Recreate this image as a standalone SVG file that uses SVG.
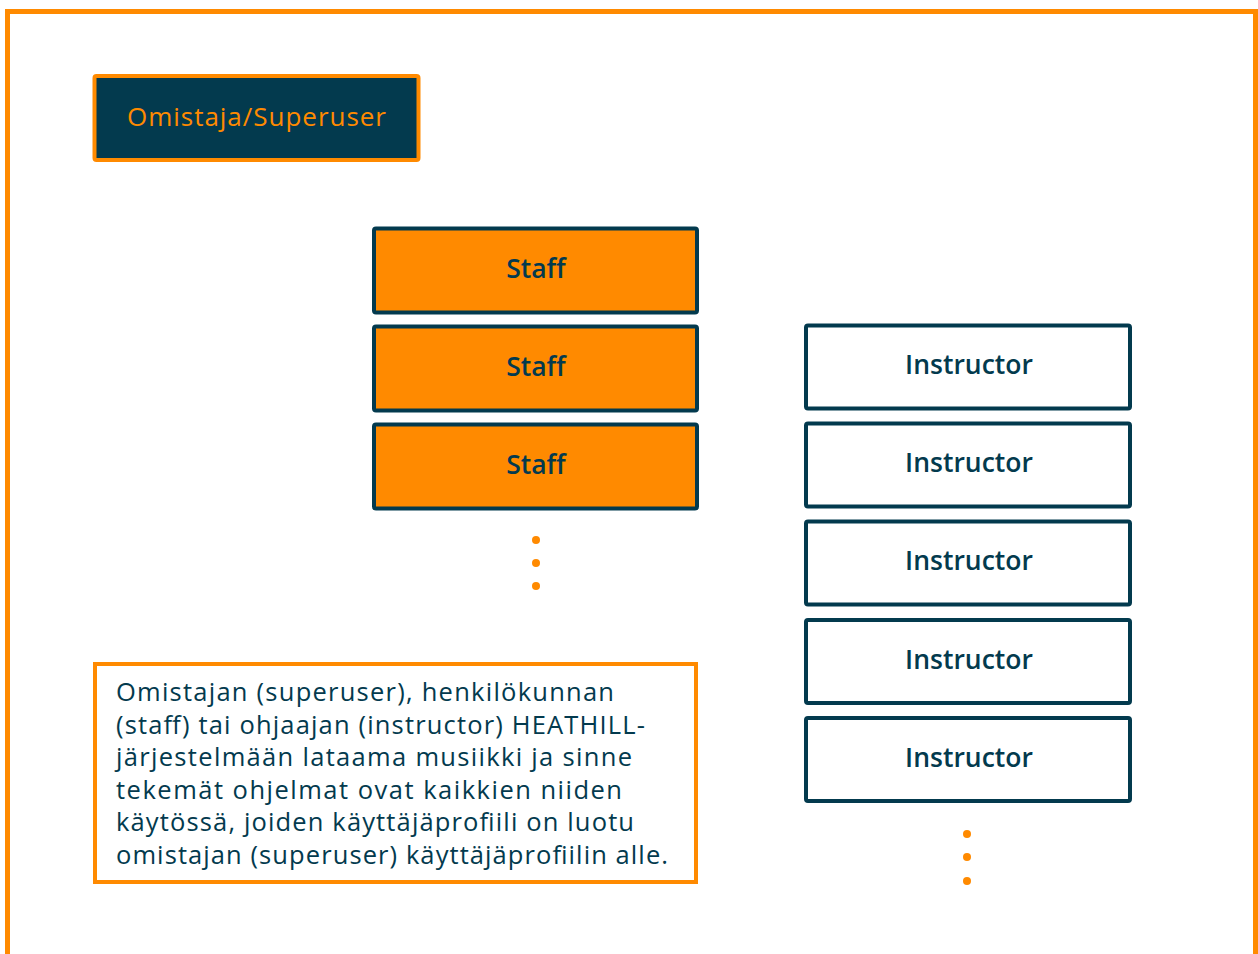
<svg xmlns="http://www.w3.org/2000/svg" width="1258" height="954" viewBox="0 0 1258 954">
<style>
.frame{fill:none;stroke:#FF8A00;stroke-width:5}
.owner{fill:#033A4E;stroke:#FF8A00;stroke-width:4}
.staff{fill:#FF8A00;stroke:#033A4E;stroke-width:4}
.instr{fill:#FFFFFF;stroke:#033A4E;stroke-width:4}
.note{fill:#FFFFFF;stroke:#FF8A00;stroke-width:4}
.lbl{font-family:"Open Sans","Noto Sans",sans-serif;font-size:26.5px;font-weight:600;text-anchor:middle;fill:#033A4E}
.olbl{fill:#FF8A00;font-weight:500;font-size:26px}
.ntxt{font-family:"Open Sans","Noto Sans",sans-serif;font-size:25.5px;fill:#033A4E}
.dot{fill:#FF8A00}
</style>
<rect width="1258" height="954" fill="#FFFFFF"/>
<rect class="frame" x="7.5" y="11.5" width="1248" height="960"/>
<g id="owner">
<rect class="owner" x="94.5" y="76" width="324" height="84" rx="2"/>
<text class="lbl olbl" x="256.5" y="126" textLength="259" lengthAdjust="spacing">Omistaja/Superuser</text>
</g>
<g id="staff1">
<rect class="staff" x="374" y="228.5" width="323" height="84" rx="2"/>
<text class="lbl" x="536" y="278">Staff</text>
</g>
<g id="staff2">
<rect class="staff" x="374" y="326.5" width="323" height="84" rx="2"/>
<text class="lbl" x="536" y="376">Staff</text>
</g>
<g id="staff3">
<rect class="staff" x="374" y="424.5" width="323" height="84" rx="2"/>
<text class="lbl" x="536" y="474">Staff</text>
</g>
<g id="staff-more">
<circle class="dot" cx="536" cy="540" r="4"/>
<circle class="dot" cx="536" cy="563" r="4"/>
<circle class="dot" cx="536" cy="586" r="4"/>
</g>
<g id="instructor1">
<rect class="instr" x="806" y="325.5" width="324" height="83" rx="2"/>
<text class="lbl" x="969" y="374">Instructor</text>
</g>
<g id="instructor2">
<rect class="instr" x="806" y="423.5" width="324" height="83" rx="2"/>
<text class="lbl" x="969" y="472">Instructor</text>
</g>
<g id="instructor3">
<rect class="instr" x="806" y="521.5" width="324" height="83" rx="2"/>
<text class="lbl" x="969" y="570">Instructor</text>
</g>
<g id="instructor4">
<rect class="instr" x="806" y="620" width="324" height="83" rx="2"/>
<text class="lbl" x="969" y="668.5">Instructor</text>
</g>
<g id="instructor5">
<rect class="instr" x="806" y="718" width="324" height="83" rx="2"/>
<text class="lbl" x="969" y="766.5">Instructor</text>
</g>
<g id="instructor-more">
<circle class="dot" cx="967" cy="834" r="4"/>
<circle class="dot" cx="967" cy="857" r="4"/>
<circle class="dot" cx="967" cy="881" r="4"/>
</g>
<g id="note">
<rect class="note" x="95" y="664" width="601" height="218"/>
<text class="ntxt" x="116" y="701" textLength="498">Omistajan (superuser), henkilökunnan</text>
<text class="ntxt" x="116" y="733.5" textLength="529">(staff) tai ohjaajan (instructor) HEATHILL-</text>
<text class="ntxt" x="116" y="766" textLength="516">järjestelmään lataama musiikki ja sinne</text>
<text class="ntxt" x="116" y="798.5" textLength="506">tekemät ohjelmat ovat kaikkien niiden</text>
<text class="ntxt" x="116" y="831" textLength="518">käytössä, joiden käyttäjäprofiili on luotu</text>
<text class="ntxt" x="116" y="863.5" textLength="552">omistajan (superuser) käyttäjäprofiilin alle.</text>
</g>
</svg>
